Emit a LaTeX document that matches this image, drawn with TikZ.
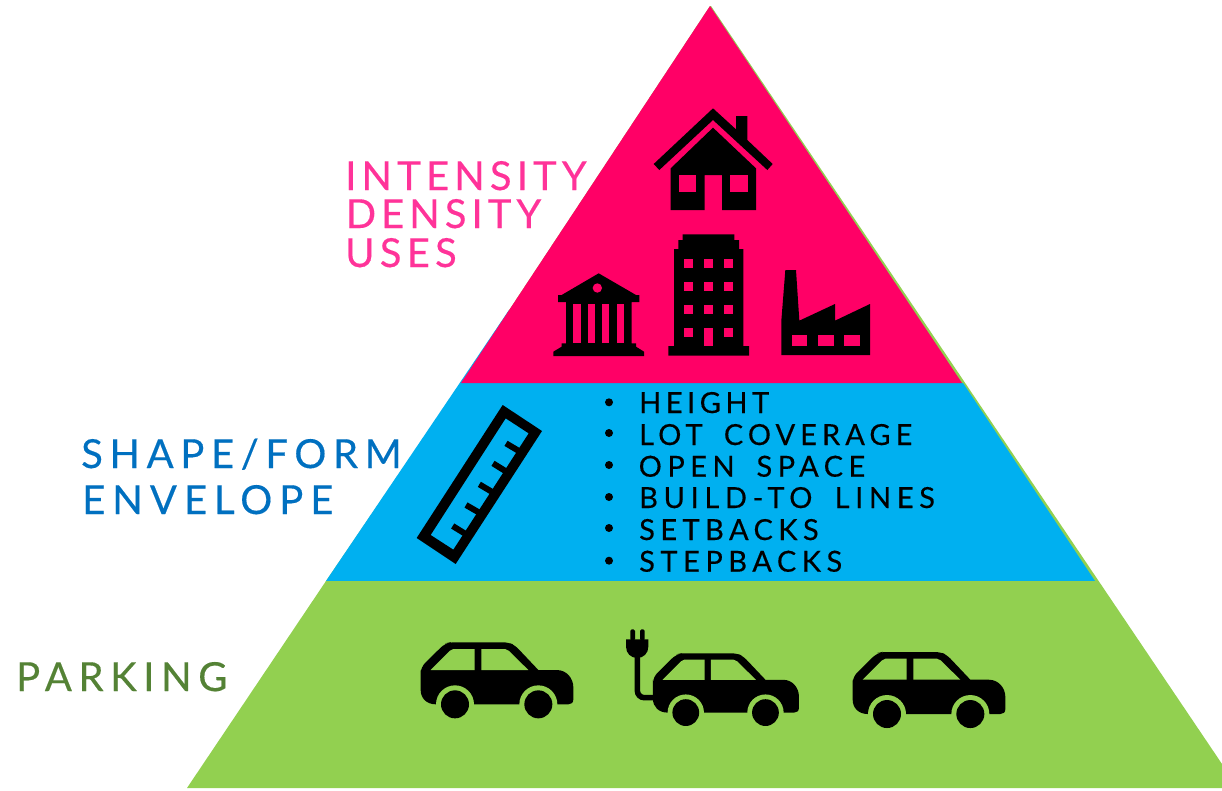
\documentclass[tikz,border=0pt]{standalone}
\usepackage{fontspec}
\newfontfamily\labfont[FakeBold=0.35]{Lato}
\newfontfamily\listfont[FakeBold=0.3,WordSpace=1.7]{Lato}
\definecolor{pyrpink}{HTML}{FF0066}
\definecolor{pyrblue}{HTML}{00B0F0}
\definecolor{pyrgreen}{HTML}{92D050}
\definecolor{labpink}{HTML}{FF3399}
\definecolor{labblue}{HTML}{0070C0}
\definecolor{labgreen}{HTML}{548235}
\newcommand{\spc}[2]{\addfontfeature{LetterSpace=#1}#2}
\tikzset{
  biglabel/.style={anchor=base west,inner sep=0pt,font=\labfont\fontsize{40}{40}\selectfont},
  listlabel/.style={anchor=base west,inner sep=0pt,font=\listfont\fontsize{29}{29}\selectfont,text=black},
  bulletdot/.style={circle,fill=black,inner sep=0pt,minimum size=8pt},
  icon/.style={fill=black,draw=none},
  holepink/.style={fill=pyrpink,draw=none},
}
\newcommand{\carshape}{%
  \fill[black] (62,240) -- (62,180) [rounded corners=6pt] -- (62,172) -- (135,100) [rounded corners=5pt] -- (150,97) -- (325,97) -- (345,106) [sharp corners] -- (415,180) -- (470,180)
    .. controls (500,180) and (520,205) .. (520,232) -- (520,268) .. controls (520,278) and (514,283) .. (505,283) -- (108,283) .. controls (80,283) and (62,265) .. (62,240) -- cycle;
  \fill[pyrgreen] (92,180) -- (150,122) .. controls (153,119) and (156,117) .. (160,117) -- (224,117) -- (224,180) -- cycle;
  \fill[pyrgreen] (244,117) -- (315,117) .. controls (320,117) and (323,119) .. (326,122) -- (385,180) -- (244,180) -- cycle;
  \fill[pyrgreen] (165,283) circle[radius=57];
  \fill[pyrgreen] (415,283) circle[radius=57];
  \fill[black] (165,283) circle[radius=42];
  \fill[black] (415,283) circle[radius=42];
}
\begin{document}
\begin{tikzpicture}[x=1pt,y=-1pt]
\useasboundingbox (0,0) rectangle (1222,790);
\fill[white] (0,0) rectangle (1222,790);
% pyramid
\fill[pyrgreen] (711,6) -- (1222,764) -- (1222,788) -- (187,788) -- (326,581) -- (461,383) -- (710,6) -- cycle;
\fill[pyrblue] (509,310) -- (600,383) -- (963,383) -- (1095,581) -- (326,581) -- cycle;
\fill[pyrpink] (710,6) -- (962,383) -- (461,383) -- cycle;
\fill[pyrgreen] (326,581) -- (1097,581) -- (1097,583) -- (325,583) -- cycle;
% labels
\node[biglabel,text=labpink] (lab1) at (345,190) {\spc{12.8}{INTENSITY}};
\node[biglabel,text=labpink] (lab2) at (345.5,228) {\spc{12.5}{DENSITY}};
\node[biglabel,text=labpink] (lab3) at (345,267) {\spc{13}{USES}};
\node[biglabel,text=labblue] (lab4) at (81,468) {\spc{16.5}{SHAPE/FORM}};
\node[biglabel,text=labblue] (lab5) at (82,514) {\spc{17.5}{ENVELOPE}};
\node[biglabel,text=labgreen] (lab6) at (16,691) {\spc{16.5}{PARKING}};
% list
\node[bulletdot] (dota) at (609,402.3) {};
\node[bulletdot] (dotb) at (609,433) {};
\node[bulletdot] (dotc) at (609,465) {};
\node[bulletdot] (dotd) at (609,497) {};
\node[bulletdot] (dote) at (609,528) {};
\node[bulletdot] (dotf) at (609,560.7) {};
\node[listlabel] (itema) at (639,413) {\spc{15.5}{HEIGHT}};
\node[listlabel] (itemb) at (639,445) {\spc{17.4}{LOT COVERAGE}};
\node[listlabel] (itemc) at (638.5,476.7) {\spc{18.8}{OPEN SPACE}};
\node[listlabel] (itemd) at (639,508) {\spc{19.5}{BUILD-TO LINES}};
\node[listlabel] (iteme) at (639,540) {\spc{18.7}{SETBACKS}};
\node[listlabel] (itemf) at (639,571.7) {\spc{19}{STEPBACKS}};
% buildings
\begin{scope}[shift={(540,90)},scale=1/3]
  % house
  \fill[icon] (519,55) -- (588,118) -- (588,78) -- (622,78) -- (622,150) -- (698,222) -- (682,240) -- (519,90) -- (358,240) -- (341,222) -- cycle;
  \fill[icon] (519,113) -- (648,235) -- (648,360) -- (546,360) -- (546,255) -- (494,255) -- (494,360) -- (392,360) -- (392,235) -- cycle;
  \fill[holepink] (417,255) rectangle (468,305);
  \fill[holepink] (571,255) rectangle (623,305);
  % bank
  \fill[icon] (176,550) -- (288,615) -- (298,615) -- (298,636) -- (275,636) -- (275,760) -- (288,760) -- (288,770) -- (312,785) -- (312,798) -- (40,798) -- (40,785) -- (65,770) -- (65,760) -- (78,760) -- (78,636) -- (54,636) -- (54,615) -- (65,615) -- cycle;
  \fill[holepink] (172,594) circle[radius=14];
  \foreach \xa/\xb in {100/122,144/165,187/208,230/251}{
    \fill[holepink] (\xa,642) rectangle (\xb,760);
  }
  % tower
  \fill[icon] (428,433) -- (583,433) -- (583,450) -- (597,450) -- (597,477) -- (610,477) -- (610,768) -- (627,768) -- (627,797) -- (385,797) -- (385,768) -- (402,768) -- (402,477) -- (415,477) -- (415,450) -- (428,450) -- cycle;
  \foreach \xa in {432,492,553}{
    \foreach \ya in {507,576,645}{
      \fill[holepink] (\xa,\ya) rectangle ++(26,26);
    }
  }
  \fill[holepink] (432,715) rectangle ++(26,26);
  \fill[holepink] (553,715) rectangle ++(26,26);
  \fill[holepink] (492,715) rectangle (518,767);
  % factory
  \fill[icon] (736,540) -- (768,540) -- (778,692) -- (885,642) -- (885,692) -- (990,642) -- (990,795) -- (724,795) -- (724,692) -- cycle;
  \fill[holepink] (755,735) rectangle (802,769);
  \fill[holepink] (834,735) rectangle (881,769);
  \fill[holepink] (912,735) rectangle (959,769);
\end{scope}
% ruler
\begin{scope}[shift={(400,385)},scale=1/3]
  \fill[black,even odd rule] (308,60) -- (426,138) -- (167,537) -- (50,459) -- cycle
     (317,100) -- (386,145) -- (160,494) -- (92,450) -- cycle;
  \foreach \xa/\ya/\xb/\yb in {318/175/355/197,279/235/316/258,238/298/275/320,198/360/236/382,158/423/197/447}{
    \draw[black,line width=6pt] (\xa,\ya) -- (\xb,\yb);
  }
\end{scope}
% cars
\begin{scope}[shift={(400,610)},scale=1/3]
  \carshape
\end{scope}
\begin{scope}[shift={(832,619.7)},scale=1/3]
  \carshape
\end{scope}
\begin{scope}[shift={(633.2,622.4)},scale=0.3187]
  \carshape
\end{scope}
% plug
\begin{scope}[shift={(400,610)},scale=1/3]
  \draw[black,line width=5.5pt,rounded corners=7pt] (765,263) -- (712,263) -- (712,130);
  \fill[black] (678,88) -- (745,88) -- (745,110) .. controls (745,130) and (730,144) .. (712,144) .. controls (693,144) and (678,130) .. (678,110) -- cycle;
  \fill[black,rounded corners=1.5pt] (691,92) -- (691,58) -- (705,58) -- (705,92) -- cycle;
  \fill[black,rounded corners=1.5pt] (720,92) -- (720,58) -- (734,58) -- (734,92) -- cycle;
\end{scope}
\end{tikzpicture}
\end{document}
